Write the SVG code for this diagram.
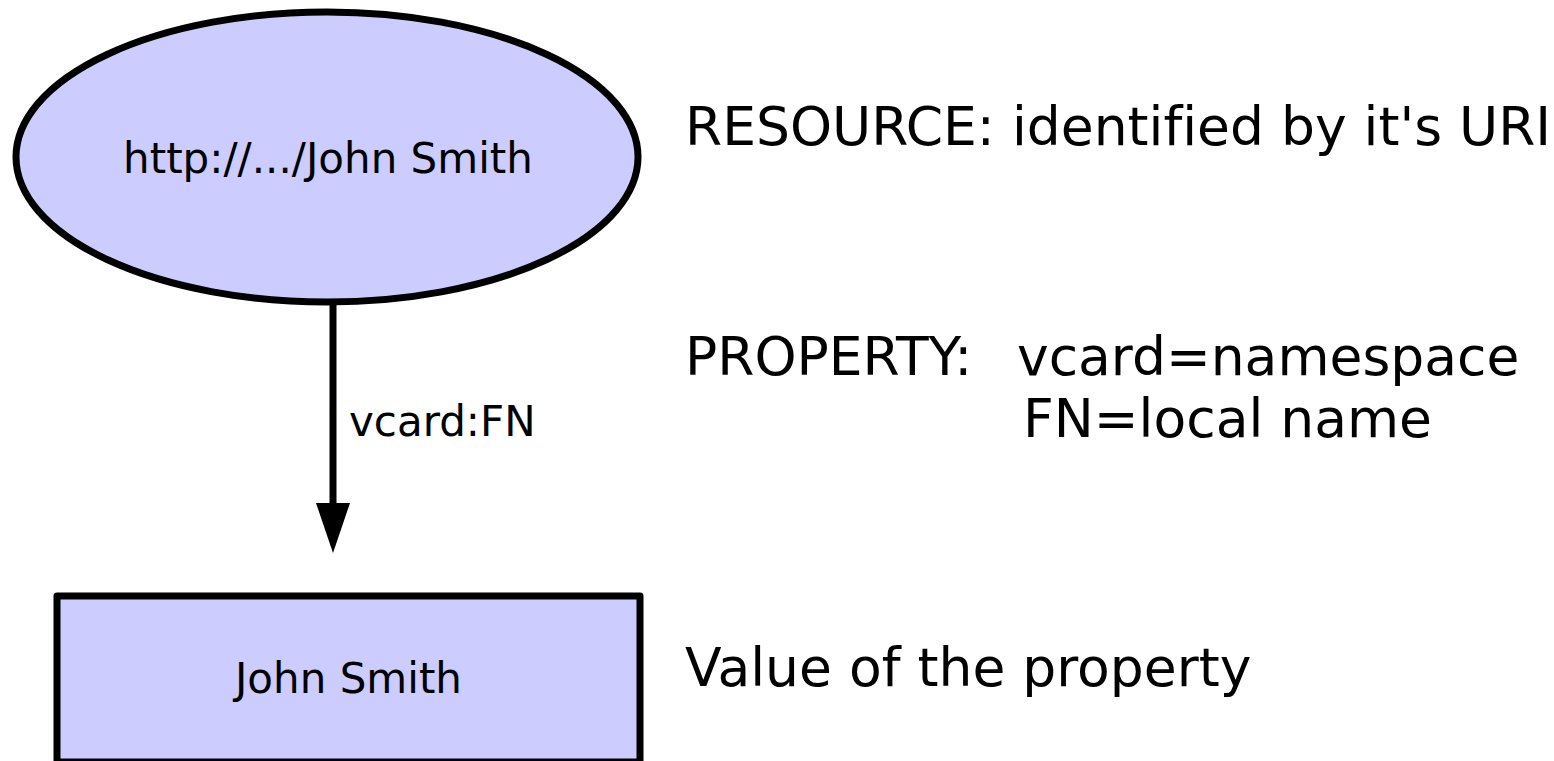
<svg xmlns="http://www.w3.org/2000/svg" width="1554" height="761" viewBox="0 0 1554 761">
<style>
text{font-variant-ligatures:none;font-feature-settings:"liga" 0}
.node{fill:#ccccff;stroke:#000;stroke-width:7;stroke-linejoin:round}
.lbl{font-family:"DejaVu Sans",sans-serif;font-size:42px;fill:#000}
.note{font-family:"DejaVu Sans",sans-serif;font-size:53.5px;fill:#000}
.edge{stroke:#000;stroke-width:7;fill:none}
</style>
<defs>
<marker id="arrow" markerUnits="userSpaceOnUse" markerWidth="50" markerHeight="34" refX="0" refY="17" orient="auto" viewBox="0 0 50 34">
<path d="M0,0 L50,17 L0,34 Z" fill="#000"/>
</marker>
</defs>
<rect width="1554" height="761" fill="#fff"/>
<g id="connectors">
<line class="edge" x1="333" y1="304" x2="333" y2="503" marker-end="url(#arrow)"/>
<text class="lbl" x="349" y="436">vcard:FN</text>
</g>
<g id="resource">
<ellipse class="node" cx="327" cy="157" rx="311" ry="145"/>
<text class="lbl" x="328" y="173" text-anchor="middle">http://.../John Smith</text>
</g>
<g id="value">
<rect class="node" x="57" y="596" width="583" height="166"/>
<text class="lbl" x="348.5" y="693" text-anchor="middle">John Smith</text>
</g>
<g id="notes">
<text class="note" x="685" y="145">RESOURCE: identified by it's URI</text>
<text class="note" x="685" y="375">PROPERTY:<tspan x="1017">vcard=namespace</tspan></text>
<text class="note" x="1023" y="437">FN=local name</text>
<text class="note" x="685" y="686">Value of the property</text>
</g>
</svg>
